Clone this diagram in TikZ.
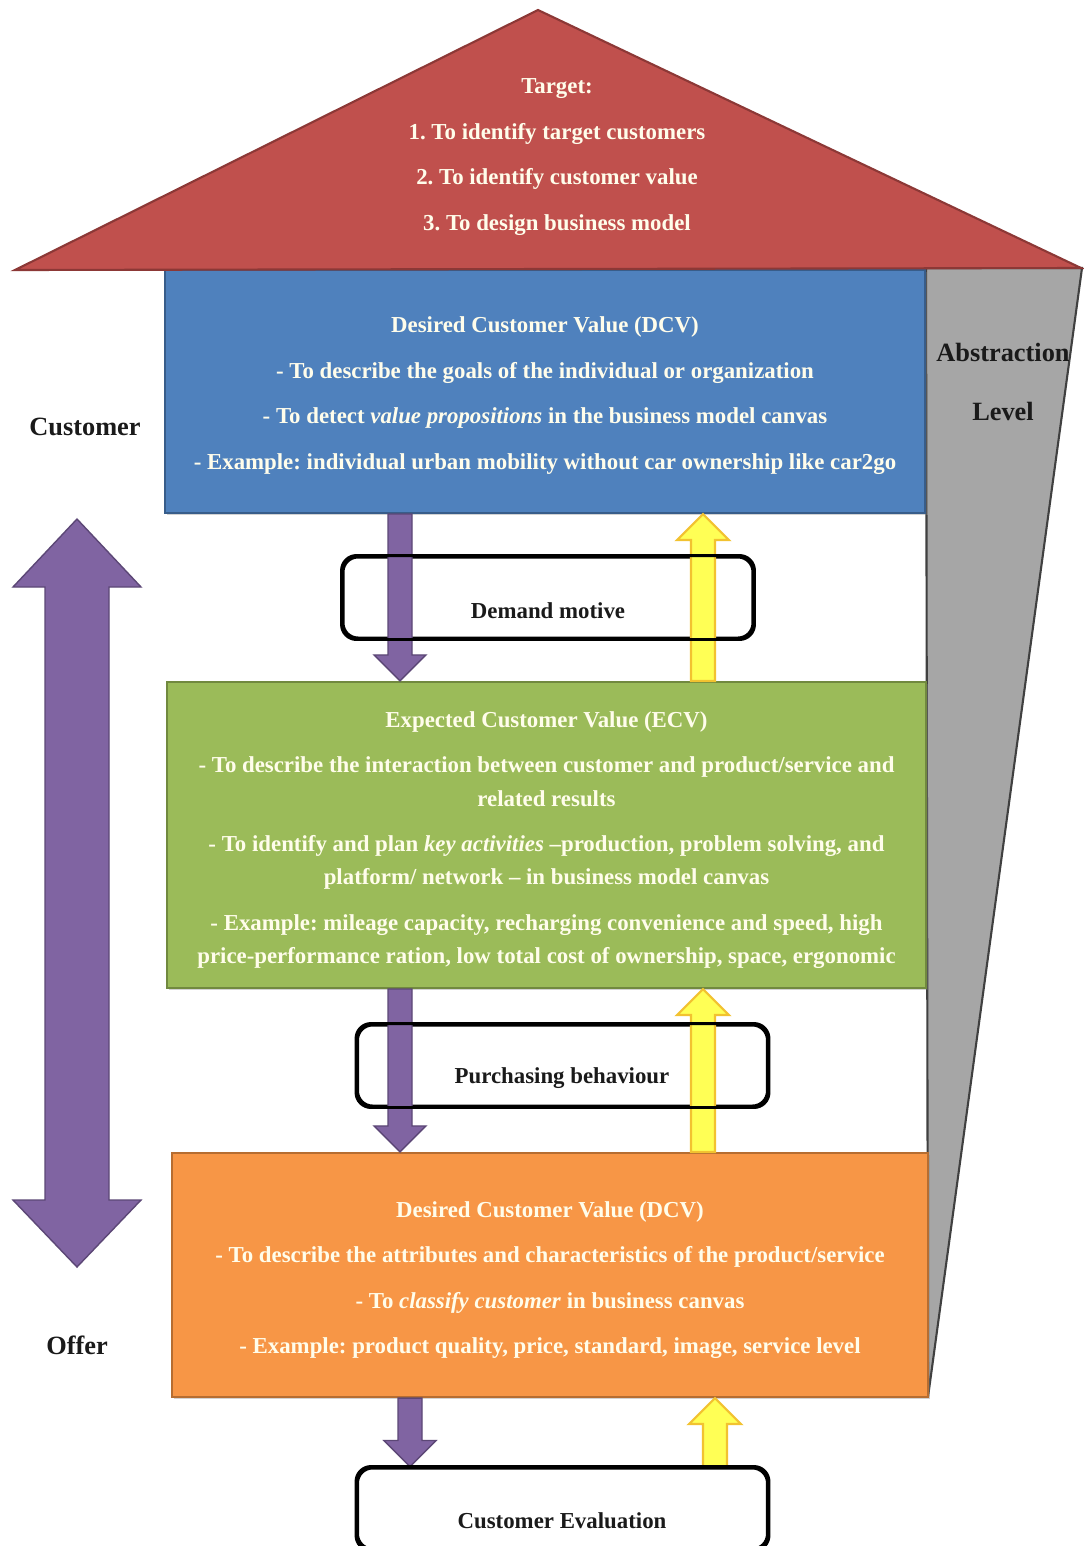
\documentclass[tikz,border=0pt]{standalone}
\usepackage{fontspec}
\setmainfont{Liberation Serif}
\usetikzlibrary{calc,shadows}
\frenchspacing

\definecolor{roofred}{HTML}{C0504D}
\definecolor{roofline}{HTML}{8C3836}
\definecolor{dcvblue}{HTML}{4F81BD}
\definecolor{dcvline}{HTML}{385D8A}
\definecolor{ecvgreen}{HTML}{9BBB59}
\definecolor{ecvline}{HTML}{71893F}
\definecolor{offerorange}{HTML}{F79646}
\definecolor{offerline}{HTML}{B66D31}
\definecolor{levelgray}{HTML}{A6A6A6}
\definecolor{levelline}{HTML}{404040}
\definecolor{flowpurple}{HTML}{8064A2}
\definecolor{flowpurpleline}{HTML}{5C4776}
\definecolor{flowyellow}{HTML}{FFFF55}
\definecolor{flowyellowline}{HTML}{F2C230}
\definecolor{boxtext}{HTML}{FFFDEB}
\definecolor{labeltext}{HTML}{1A1A1A}

\newcommand{\boxfont}{\fontsize{13}{18.9}\selectfont\bfseries}
\newcommand{\labelfont}{\fontsize{15}{34}\selectfont\bfseries}

% block arrow: #1 style, #2 start, #3 tip, #4 + (points down) or - (points up)
\newcommand{\flowarrow}[4]{%
  \draw[#1] let \p1=(#2), \p2=(#3) in
    (\x1-0.24cm,\y1) -- (\x1-0.24cm,\y2#40.52cm) -- (\x1-0.52cm,\y2#40.52cm)
    -- (\x1,\y2) -- (\x1+0.52cm,\y2#40.52cm) -- (\x1+0.24cm,\y2#40.52cm)
    -- (\x1+0.24cm,\y1) -- cycle;}

\begin{document}
\begin{tikzpicture}[
    x=0.02cm, y=-0.02cm,
    valuebox/.style={
      rectangle,
      draw,
      line width=1.2pt,
      inner sep=0pt,
      drop shadow={shadow xshift=1.2pt, shadow yshift=-1.2pt, opacity=0.35}
    },
    boxlabel/.style={text=boxtext, font=\boxfont, align=center, inner sep=0pt},
    stagebox/.style={
      rectangle,
      draw=black,
      line width=1.7pt,
      rounded corners=0.3cm,
      minimum width=8.2cm,
      minimum height=1.62cm
    },
    stagetext/.style={text=labeltext, font=\boxfont},
    sidelabel/.style={text=labeltext, font=\labelfont, align=center},
    downflow/.style={fill=flowpurple, draw=flowpurpleline, line width=0.8pt},
    upflow/.style={fill=flowyellow, draw=flowyellowline, line width=1.2pt}
  ]
    \useasboundingbox (0,0) rectangle (1083,1546);
    \fill[white] (0,0) rectangle (1083,1546);

    % abstraction wedge
    \draw[fill=levelgray, draw=levelline, line width=1.2pt]
      (926,268) -- (1082,268) -- (928,1397) -- cycle;
    \node[sidelabel] (abstraction) at (1003,382) {Abstraction\\Level};

    % value boxes
    \node[valuebox, fill=dcvblue, draw=dcvline,
      minimum width=15.2cm, minimum height=4.86cm] (dcv) at (545,391.5) {};
    \node[boxlabel] (dcvtext) at (545,395.5) {%
      Desired Customer Value (DCV)\\[7pt]
      - To describe the goals of the individual or organization\\[7pt]
      - To detect \textit{value propositions} in the business model canvas\\[7pt]
      - Example: individual urban mobility without car ownership like car2go};
    \node[valuebox, fill=ecvgreen, draw=ecvline,
      minimum width=15.18cm, minimum height=6.12cm] (ecv) at (546.5,835) {};
    \node[boxlabel] (ecvtext) at (546.5,840) {%
      Expected Customer Value (ECV)\\[7pt]
      - To describe the interaction between customer and product/service and\\
      related results\\[7pt]
      - To identify and plan \textit{key activities} --production, problem solving, and\\
      platform/ network -- in business model canvas\\[7pt]
      - Example: mileage capacity, recharging convenience and speed, high\\
      price-performance ration, low total cost of ownership, space, ergonomic};
    \node[valuebox, fill=offerorange, draw=offerline,
      minimum width=15.12cm, minimum height=4.88cm] (offer) at (550,1275) {};
    \node[boxlabel] (offertext) at (550,1280) {%
      Desired Customer Value (DCV)\\[7pt]
      - To describe the attributes and characteristics of the product/service\\[7pt]
      - To \textit{classify customer} in business canvas\\[7pt]
      - Example: product quality, price, standard, image, service level};

    % roof
    \draw[fill=roofred, draw=roofline, line width=1.2pt]
      (15,270) -- (538,10) -- (1081,268) -- cycle;
    \node[boxlabel] (target) at (557,157) {%
      Target:\\[7pt]
      1. To identify target customers\\[7pt]
      2. To identify customer value\\[7pt]
      3. To design business model};

    % customer / offer axis
    \draw[downflow] (77,519) -- (141,587) -- (109,587) -- (109,1200) -- (141,1200)
      -- (77,1267) -- (13,1200) -- (45,1200) -- (45,587) -- (13,587) -- cycle;
    \node[sidelabel] (customer) at (85,427) {Customer};
    \node[sidelabel] (offerlabel) at (77,1345) {Offer};

    % stage boxes
    \node[stagebox] (demand) at (548,597.5) {};
    \node[stagebox] (purchase) at (562.5,1065.5) {};
    \node[stagebox] (evaluation) at (562.5,1508.5) {};

    \coordinate (leftcol) at (400,0);
    \coordinate (rightcol) at (703,0);
    \coordinate (evalleft) at (410,0);
    \coordinate (evalright) at (715,0);

    % flows
    \flowarrow{downflow}{leftcol |- dcv.south}{leftcol |- ecv.north}{+}
    \flowarrow{upflow}{rightcol |- ecv.north}{rightcol |- dcv.south}{-}
    \flowarrow{downflow}{leftcol |- ecv.south}{leftcol |- offer.north}{+}
    \flowarrow{upflow}{rightcol |- offer.north}{rightcol |- ecv.south}{-}
    \flowarrow{downflow}{evalleft |- offer.south}{evalleft |- evaluation.north}{+}
    \flowarrow{upflow}{evalright |- evaluation.north}{evalright |- offer.south}{-}

    % stage outlines on top of the flows
    \draw[line width=1.7pt, rounded corners=0.3cm] (demand.south west) rectangle (demand.north east);
    \draw[line width=1.7pt, rounded corners=0.3cm] (purchase.south west) rectangle (purchase.north east);
    \draw[line width=1.7pt, rounded corners=0.3cm] (evaluation.south west) rectangle (evaluation.north east);
    \node[stagetext] (demandtext) at (548,611) {Demand motive};
    \node[stagetext] (purchasetext) at (562,1078) {Purchasing behaviour};
    \node[stagetext] (evaltext) at (562,1521) {Customer Evaluation};
  \end{tikzpicture}
\end{document}
